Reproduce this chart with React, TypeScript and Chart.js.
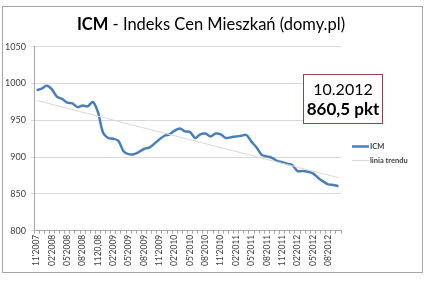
import React, { useEffect, useRef } from "react";
import { Chart, registerables } from "chart.js";

Chart.register(...registerables);

const categories: string[] = [
  "11'2007", "12'2007",
  "01'2008", "02'2008", "03'2008", "04'2008", "05'2008", "06'2008", "07'2008", "08'2008", "09'2008", "10'2008", "11'2008", "12'2008",
  "01'2009", "02'2009", "03'2009", "04'2009", "05'2009", "06'2009", "07'2009", "08'2009", "09'2009", "10'2009", "11'2009", "12'2009",
  "01'2010", "02'2010", "03'2010", "04'2010", "05'2010", "06'2010", "07'2010", "08'2010", "09'2010", "10'2010", "11'2010", "12'2010",
  "01'2011", "02'2011", "03'2011", "04'2011", "05'2011", "06'2011", "07'2011", "08'2011", "09'2011", "10'2011", "11'2011", "12'2011",
  "01'2012", "02'2012", "03'2012", "04'2012", "05'2012", "06'2012", "07'2012", "08'2012", "09'2012", "10'2012",
];

const tickLabels: string[] = [
  "11'2007", "02'2008", "05'2008", "08'2008", "1120,08", "02'2009", "05'2009", "08'2009",
  "11'2009", "02'2010", "05'2010", "08'2010", "11'2010", "02'2011", "05'2011", "08'2011",
  "11'2011", "02'2012", "05'2012", "08'2012",
];

const icmValues: number[] = [
  991, 993, 997, 992, 982, 979, 974, 973, 968, 970,
  969, 975, 961, 933, 926, 925, 922, 908, 904, 904,
  907, 911, 913, 918, 924, 929, 931, 936, 939, 935,
  934, 926, 931, 932, 928, 932, 931, 926, 927, 928,
  929, 930, 921, 913, 903, 901, 899, 895, 893, 891,
  889, 881, 881, 880, 878, 872, 867, 863, 862, 860.5,
];

const trendStart = 977;
const trendEnd = 872;

const yMin = 800;
const yMax = 1050;
const yStep = 50;

const titleBold = "ICM";
const titleRest = " - Indeks Cen Mieszkań (domy.pl)";
const boxLine1 = "10.2012";
const boxLine2 = "860,5 pkt";
const legendLabels = ["ICM", "linia trendu"];

const FONT = "Lato, 'Liberation Sans', sans-serif";
const BLUE = "#4a7ebb";
const TREND = "#d9d9d9";

const overlay = {
  id: "overlay",
  beforeDraw(chart: any) {
    const ctx = chart.ctx;
    ctx.save();
    ctx.fillStyle = "#ffffff";
    ctx.fillRect(0, 0, chart.width, chart.height);
    ctx.strokeStyle = "#a6a6a6";
    ctx.lineWidth = 1;
    ctx.strokeRect(2.5, 6.5, 420, 266);
    ctx.restore();
  },
  afterDraw(chart: any) {
    const ctx = chart.ctx;
    ctx.save();
    // title
    ctx.textBaseline = "alphabetic";
    ctx.fillStyle = "#000000";
    const fb = `bold 16.5px ${FONT}`;
    const fr = `16.5px ${FONT}`;
    ctx.font = fb;
    const wb = ctx.measureText(titleBold).width;
    ctx.font = fr;
    const wr = ctx.measureText(titleRest).width;
    const x0 = 211 - (wb + wr) / 2;
    ctx.font = fb;
    ctx.textAlign = "left";
    ctx.fillText(titleBold, x0, 29.5);
    ctx.font = fr;
    ctx.fillText(titleRest, x0 + wb, 29.5);

    // annotation box
    ctx.fillStyle = "#ffffff";
    ctx.fillRect(303.5, 74.5, 79, 49);
    ctx.strokeStyle = "#8e4646";
    ctx.lineWidth = 1;
    ctx.strokeRect(303.5, 74.5, 79, 49);
    ctx.fillStyle = "#000000";
    ctx.textAlign = "center";
    ctx.font = `16px ${FONT}`;
    ctx.fillText(boxLine1, 343, 94.5);
    ctx.font = `bold 17px ${FONT}`;
    ctx.fillText(boxLine2, 343, 115);

    // legend
    ctx.lineCap = "butt";
    ctx.strokeStyle = BLUE;
    ctx.lineWidth = 2.5;
    ctx.beginPath();
    ctx.moveTo(352, 146.5);
    ctx.lineTo(369, 146.5);
    ctx.stroke();
    ctx.strokeStyle = TREND;
    ctx.lineWidth = 1;
    ctx.beginPath();
    ctx.moveTo(352, 160.5);
    ctx.lineTo(369, 160.5);
    ctx.stroke();
    ctx.fillStyle = "#404040";
    ctx.textAlign = "left";
    ctx.textBaseline = "middle";
    ctx.font = `bold 7.5px ${FONT}`;
    ctx.fillText(legendLabels[0], 370, 147);
    ctx.fillText(legendLabels[1], 370, 161);
    ctx.restore();
  },
};

export default function App() {
  const canvasRef = useRef<HTMLCanvasElement | null>(null);

  useEffect(() => {
    const canvas = canvasRef.current;
    if (!canvas) return;
    const trendData: (number | null)[] = icmValues.map(() => null);
    trendData[0] = trendStart;
    trendData[trendData.length - 1] = trendEnd;

    const chart = new Chart(canvas, {
      type: "line",
      data: {
        labels: categories,
        datasets: [
          {
            label: legendLabels[1],
            data: trendData,
            borderColor: TREND,
            borderWidth: 1,
            pointRadius: 0,
            spanGaps: true,
            tension: 0,
            fill: false,
          },
          {
            label: legendLabels[0],
            data: icmValues,
            borderColor: BLUE,
            borderWidth: 2.5,
            pointRadius: 0,
            tension: 0.3,
            fill: false,
            borderJoinStyle: "round",
          },
        ],
      },
      options: {
        animation: false,
        responsive: false,
        devicePixelRatio: 1,
        layout: { padding: { top: 46.7, left: 0, right: 83, bottom: 0 } },
        plugins: {
          legend: { display: false },
          title: { display: false },
          tooltip: { enabled: false },
        },
        scales: {
          x: {
            type: "category",
            offset: true,
            grid: {
              display: true,
              offset: true,
              drawOnChartArea: false,
              drawTicks: true,
              tickLength: 3,
              color: "#a6a6a6",
            },
            border: { display: true, color: "#a6a6a6" },
            ticks: {
              autoSkip: false,
              maxRotation: 90,
              minRotation: 90,
              padding: 1,
              color: "#404040",
              font: { family: FONT, size: 8.5 },
              callback: (_v: any, i: number) => (i % 3 === 0 ? tickLabels[i / 3] : ""),
            },
            afterFit: (s: any) => {
              s.height = 285 - 230.7;
            },
          },
          y: {
            min: yMin,
            max: yMax,
            grid: {
              color: "#d9d9d9",
              drawTicks: true,
              tickLength: 3,
            },
            border: { display: true, color: "#a6a6a6" },
            ticks: {
              stepSize: yStep,
              padding: 5,
              color: "#404040",
              font: { family: FONT, size: 9 },
              callback: (v: any) => String(v),
            },
            afterFit: (s: any) => {
              s.width = 34;
            },
          },
        },
      },
      plugins: [overlay],
    });
    return () => chart.destroy();
  }, []);

  return (
    <div style={{ position: "fixed", left: 0, top: 0, width: 424, height: 285, background: "#fff" }}>
      <canvas ref={canvasRef} width={424} height={285} style={{ display: "block", width: 424, height: 285 }} />
    </div>
  );
}
